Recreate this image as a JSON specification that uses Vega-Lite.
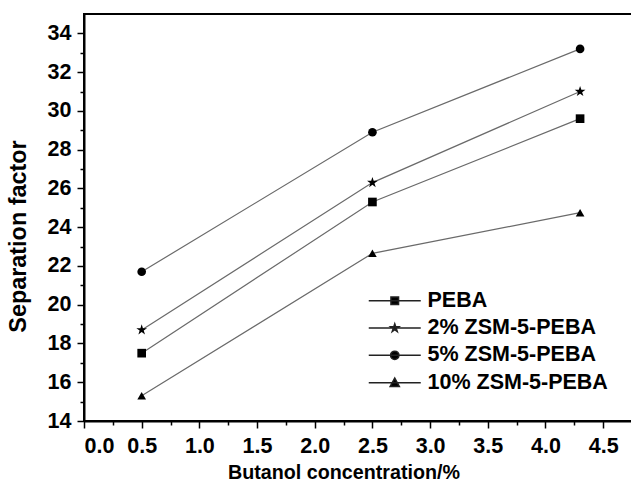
{
  "$schema": "https://vega.github.io/schema/vega-lite/v6.json",
  "autosize": {"type": "none"},
  "padding": {"left": 84, "top": 14, "right": 0, "bottom": 61},
  "width": 548,
  "height": 407,
  "background": "white",
  "config": {
    "font": "Liberation Sans",
    "view": {"stroke": "black", "strokeWidth": 2},
    "axis": {
      "grid": false,
      "domainColor": "black",
      "domainWidth": 2,
      "tickColor": "black",
      "tickWidth": 1.5,
      "labelFont": "Liberation Sans",
      "labelFontWeight": "bold",
      "labelFontSize": 21.5,
      "labelColor": "black",
      "titleFont": "Liberation Sans",
      "titleFontWeight": "bold",
      "titleColor": "black",
      "labelOverlap": false
    }
  },
  "data": {
    "values": [
      {"c": 0.5, "sf": 17.5, "s": "PEBA"},
      {"c": 2.5, "sf": 25.3, "s": "PEBA"},
      {"c": 4.3, "sf": 29.6, "s": "PEBA"},
      {"c": 0.5, "sf": 18.7, "s": "2% ZSM-5-PEBA"},
      {"c": 2.5, "sf": 26.3, "s": "2% ZSM-5-PEBA"},
      {"c": 4.3, "sf": 31.0, "s": "2% ZSM-5-PEBA"},
      {"c": 0.5, "sf": 21.7, "s": "5% ZSM-5-PEBA"},
      {"c": 2.5, "sf": 28.9, "s": "5% ZSM-5-PEBA"},
      {"c": 4.3, "sf": 33.2, "s": "5% ZSM-5-PEBA"},
      {"c": 0.5, "sf": 15.3, "s": "10% ZSM-5-PEBA"},
      {"c": 2.5, "sf": 22.65, "s": "10% ZSM-5-PEBA"},
      {"c": 4.3, "sf": 24.75, "s": "10% ZSM-5-PEBA"}
    ]
  },
  "encoding": {
    "x": {
      "field": "c", "type": "quantitative",
      "scale": {"domain": [0, 4.75], "nice": false, "zero": false},
      "axis": {
        "title": "Butanol concentration/%",
        "titleFontSize": 19.7,
        "titleX": 259.5,
        "titlePadding": 6,
        "values": [0, 0.25, 0.5, 0.75, 1, 1.25, 1.5, 1.75, 2, 2.25, 2.5, 2.75, 3, 3.25, 3.5, 3.75, 4, 4.25, 4.5],
        "labelExpr": "abs(datum.value*2 - round(datum.value*2)) < 0.001 ? format(datum.value, '.1f') : ''",
        "tickSize": {"condition": {"test": "abs(datum.value*2 - round(datum.value*2)) < 0.001", "value": 7}, "value": 4},
        "labelPadding": 7
      }
    },
    "y": {
      "field": "sf", "type": "quantitative",
      "scale": {"domain": [14, 35], "nice": false, "zero": false},
      "axis": {
        "title": "Separation factor",
        "titleFontSize": 23.4,
        "titleY": 222,
        "titlePadding": 17,
        "values": [14, 15, 16, 17, 18, 19, 20, 21, 22, 23, 24, 25, 26, 27, 28, 29, 30, 31, 32, 33, 34],
        "labelExpr": "datum.value % 2 == 0 ? datum.label : ''",
        "tickSize": {"condition": {"test": "datum.value % 2 == 0", "value": 7}, "value": 4},
        "labelPadding": 6
      }
    }
  },
  "resolve": {"scale": {"shape": "independent"}, "legend": {"shape": "independent"}},
  "layer": [
    {
      "mark": {"type": "line", "color": "#6a6a6a", "strokeWidth": 1.2},
      "encoding": {"detail": {"field": "s"}}
    },
    {
      "mark": {"type": "point", "filled": true, "opacity": 1, "color": "black", "size": 75},
      "encoding": {
        "shape": {
          "field": "s", "type": "nominal",
          "scale": {
            "domain": ["PEBA", "2% ZSM-5-PEBA", "5% ZSM-5-PEBA", "10% ZSM-5-PEBA"],
            "range": ["square", "M0,-1.3L0.292,-0.402L1.236,-0.402L0.472,0.153L0.764,1.052L0,0.497L-0.764,1.052L-0.472,0.153L-1.236,-0.402L-0.292,-0.402Z", "circle", "triangle-up"]
          },
          "legend": null
        }
      }
    },
    {
      "mark": {"type": "point", "filled": true, "fill": "black", "stroke": "#222222", "strokeWidth": 1, "opacity": 0, "size": 64},
      "encoding": {
        "shape": {
          "field": "s", "type": "nominal",
          "scale": {
            "domain": ["PEBA", "2% ZSM-5-PEBA", "5% ZSM-5-PEBA", "10% ZSM-5-PEBA"],
            "range": [
              "M-6.5,0H6.5M-0.95,-0.95H0.95V0.95H-0.95Z",
              "M-6.5,0H6.5M0,-1.05L0.236,-0.325L1,-0.325L0.382,0.124L0.618,0.85L0,0.401L-0.618,0.85L-0.382,0.124L-1,-0.325L-0.236,-0.325Z",
              "M-6.5,0H6.5M-1.05,0A1.05,1.05 0 1,0 1.05,0A1.05,1.05 0 1,0 -1.05,0Z",
              "M-6.5,0H6.5M0,-1.15L1.15,0.95H-1.15Z"
            ]
          },
          "legend": {
            "title": null,
            "orient": "none",
            "legendX": 300,
            "legendY": 276,
            "padding": 0,
            "symbolSize": 64,
            "symbolOpacity": 1,
            "labelOffset": 22,
            "labelLimit": 400,
            "labelFont": "Liberation Sans",
            "labelFontWeight": "bold",
            "labelFontSize": 21.5,
            "labelColor": "black",
            "rowPadding": 4.3
          }
        }
      }
    }
  ]
}
